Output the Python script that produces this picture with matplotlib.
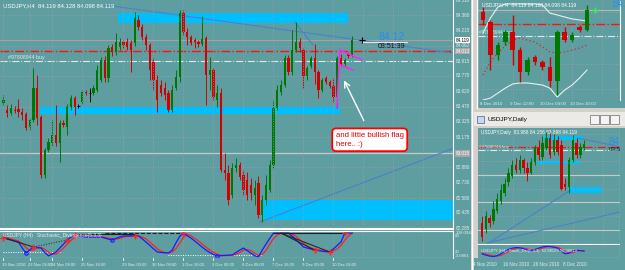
import matplotlib.pyplot as plt
import numpy as np

# ---- USDJPY H4 candles, 19 Nov - 10 Dec 2010
h4_open = [83.507, 83.439, 83.409, 83.439, 83.448, 83.419, 83.400, 83.273, 83.341, 83.653,
           83.370, 82.806, 83.049, 83.117, 83.195, 83.117, 83.312, 83.273, 83.468, 83.555,
           83.478, 83.517, 83.614, 83.604, 83.604, 83.633, 83.731, 83.926, 83.750, 84.052,
           84.004, 84.052, 84.101, 84.101, 84.091, 84.091, 84.315, 84.247, 84.150, 84.072,
           83.906, 83.731, 83.682, 83.653, 83.604, 83.439, 83.653, 83.760, 84.383, 84.198,
           84.150, 84.120, 84.101, 84.081, 84.140, 83.780, 83.828, 83.536, 83.604, 82.854,
           82.825, 82.611, 82.874, 82.903, 82.806, 82.757, 82.708, 82.611, 82.728, 82.416,
           82.562, 82.659, 82.903, 83.458, 83.614, 83.682, 83.945, 83.809, 84.023, 84.101,
           84.023, 83.770, 83.867, 83.945, 83.809, 83.633, 83.750, 83.711, 83.672, 83.565,
           83.945, 83.887, 83.984, 83.965]
h4_high = [83.585, 83.487, 83.497, 83.478, 83.546, 83.458, 83.419, 83.361, 83.848, 83.780,
           83.390, 83.069, 83.166, 83.341, 83.487, 83.341, 83.341, 83.497, 83.585, 83.575,
           83.497, 83.633, 83.633, 83.653, 83.682, 83.877, 83.955, 83.965, 84.072, 84.081,
           84.189, 84.140, 84.120, 84.140, 84.120, 84.393, 84.364, 84.276, 84.179, 84.091,
           83.945, 83.780, 83.731, 83.711, 83.633, 83.682, 83.828, 84.413, 84.413, 84.237,
           84.169, 84.140, 84.120, 84.354, 84.159, 83.955, 83.848, 83.682, 83.653, 83.020,
           82.903, 82.922, 82.971, 82.932, 82.854, 82.835, 82.776, 82.757, 82.796, 82.611,
           82.806, 82.952, 83.536, 83.682, 83.731, 83.974, 83.974, 84.218, 84.296, 84.140,
           84.042, 83.867, 83.965, 84.081, 83.828, 83.750, 83.770, 83.731, 83.750, 83.965,
           83.984, 83.945, 84.004, 84.159]
h4_low = [83.487, 83.370, 83.390, 83.409, 83.370, 83.341, 83.244, 83.244, 83.322, 83.293,
          82.776, 82.776, 83.030, 83.088, 83.088, 82.932, 83.273, 83.195, 83.439, 83.390,
          83.458, 83.497, 83.585, 83.517, 83.585, 83.614, 83.711, 83.711, 83.711, 83.965,
          83.974, 84.023, 84.042, 84.023, 83.809, 84.062, 84.218, 84.120, 84.023, 83.731,
          83.633, 83.419, 83.575, 83.536, 83.419, 83.419, 83.633, 83.711, 84.169, 84.072,
          84.072, 84.042, 84.052, 84.062, 83.487, 83.633, 83.536, 83.468, 82.835, 82.757,
          82.513, 82.581, 82.835, 82.757, 82.611, 82.562, 82.562, 82.513, 82.387, 82.348,
          82.513, 82.640, 82.874, 83.439, 83.585, 83.663, 83.780, 83.780, 84.004, 84.004,
          83.653, 83.731, 83.848, 83.692, 83.555, 83.614, 83.692, 83.653, 83.517, 83.458,
          83.867, 83.867, 83.945, 83.955]
h4_close = [83.536, 83.409, 83.458, 83.429, 83.419, 83.390, 83.263, 83.341, 83.653, 83.361,
            82.806, 83.049, 83.127, 83.195, 83.117, 83.312, 83.293, 83.468, 83.555, 83.468,
            83.475, 83.614, 83.604, 83.602, 83.653, 83.828, 83.926, 83.750, 84.042, 84.004,
            84.101, 84.101, 84.072, 84.052, 84.023, 84.335, 84.247, 84.150, 84.072, 83.828,
            83.731, 83.536, 83.604, 83.585, 83.439, 83.633, 83.760, 84.383, 84.198, 84.150,
            84.091, 84.101, 84.081, 84.130, 83.780, 83.828, 83.565, 83.604, 82.854, 82.825,
            82.562, 82.874, 82.903, 82.786, 82.659, 82.611, 82.630, 82.679, 82.416, 82.562,
            82.708, 82.903, 83.458, 83.633, 83.682, 83.945, 83.809, 84.023, 84.101, 84.042,
            83.770, 83.848, 83.945, 83.809, 83.633, 83.731, 83.711, 83.672, 83.565, 83.945,
            83.887, 83.926, 83.965, 84.119]

# stochastic (main / signal) under the H4 chart
stoch_k = [74, 70, 66, 62, 58, 35, 16, 28, 39, 37,
           35, 18, 5, 12, 20, 35, 50, 66, 76, 85,
           82, 79, 77, 77, 77, 77, 77, 73, 69, 66,
           72, 77, 81, 81, 81, 81, 81, 70, 58, 45,
           32, 20, 18, 17, 16, 27, 55, 80, 92, 82,
           73, 62, 50, 38, 27, 18, 10, 5, 6, 7,
           8, 8, 18, 27, 35, 25, 15, 5, 2, 27,
           50, 72, 92, 92, 92, 92, 92, 80, 67, 53,
           39, 35, 31, 27, 25, 23, 21, 20, 32, 45,
           58, 92, 92, 92]
stoch_d = [78, 75, 70, 66, 62, 52, 36, 26, 28, 35,
           37, 30, 19, 12, 12, 22, 35, 50, 64, 76,
           81, 82, 79, 78, 77, 77, 77, 76, 73, 69,
           69, 72, 77, 80, 81, 81, 81, 77, 70, 58,
           45, 32, 23, 18, 17, 20, 33, 54, 76, 88,
           82, 72, 62, 50, 38, 28, 18, 11, 7, 6,
           7, 8, 11, 18, 27, 29, 25, 15, 7, 11,
           26, 50, 71, 85, 92, 92, 92, 88, 80, 67,
           53, 43, 35, 31, 28, 25, 23, 21, 25, 32,
           45, 65, 81, 92]
red_marks = [0, 8, 17, 19, 35, 48, 83, 87, 91]
blue_marks = [6, 29, 57]

h4_date_pos = [0, 7, 13, 21, 32, 40, 48, 56, 64, 72, 80, 88]
h4_date_lbl = ['19 Nov 2010', '23 Nov 08:00', '24 Nov 08:00', '25 Nov 16:00', '29 Nov 00:00',
               '30 Nov 08:00', '1 Dec 16:00', '3 Dec 00:00', '6 Dec 08:00', '7 Dec 16:00',
               '9 Dec 00:00', '10 Dec 08:00']
h4_price_lbl = [84.510, 84.360, 84.215, 84.062, 83.915, 83.770, 83.620, 83.470, 83.325,
                83.175, 82.880, 82.730, 82.580, 82.435, 82.285]
h4_grid_prices = [84.360, 84.062, 83.770, 83.470, 83.175, 82.880, 82.580, 82.285]

# objects on the H4 chart: (bar from, bar to, price low, price high)
zones = [(30.5, 91.9, 84.286, 84.383), (9.7, 89.7, 83.400, 83.468), (69.2, 121.0, 82.367, 82.562)]
trend_down = ([27.1, 119.9], [84.461, 83.994])
trend_down2 = ([77.7, 82.5], [84.296, 84.072])
trend_up = ([68.4, 119.9], [82.348, 83.064])
flag_pole = ([89.7, 88.9], [84.023, 83.458])
flag_top = ([89.7, 95.6], [84.023, 83.926])
flag_bot = ([89.7, 93.2], [83.877, 83.828])
bid, stop_line, order_line, round_line = 84.119, 84.013, 83.915, 83.015

# zoomed H4 window (bars 79..93) envelope lines
band_up = [83.939, 84.056, 84.142, 84.166, 84.166, 84.166, 84.166, 84.166, 84.158, 84.095,
           84.080, 84.064, 84.049, 84.041, 84.033]
band_mid = [83.611, 83.713, 83.783, 83.838, 83.884, 83.900, 83.884, 83.869, 83.830, 83.791,
            83.783, 83.791, 83.806, 83.822, 83.845]
band_dn = [83.416, 83.431, 83.470, 83.509, 83.541, 83.549, 83.549, 83.541, 83.533, 83.509,
           83.439, 83.494, 83.533, 83.588, 83.650]
zoom_date_pos = [79, 83, 87, 91]
zoom_date_lbl = ['8 Dec 2010', '9 Dec 12:00', '10 Dec 04:00', '10 Dec 20:00']

# USDJPY daily candles (early Nov - 10 Dec 2010)
d_open = [81.25, 81.03, 81.44, 81.33, 81.69, 82.06, 82.35, 82.72, 82.97, 83.34, 83.16, 83.52, 83.23, 83.08,
          83.45, 83.96, 83.63, 83.96, 84.33, 83.82, 84.26, 84.07, 82.68, 82.54, 83.52, 84.15, 83.71, 83.96]
d_high = [81.51, 81.69, 81.55, 82.06, 82.35, 82.68, 82.87, 83.23, 83.52, 83.60, 83.71, 83.60, 83.45, 83.60,
          84.07, 84.26, 84.40, 84.55, 84.51, 84.48, 84.40, 84.26, 82.87, 83.63, 84.44, 84.33, 84.15, 84.26]
d_low = [80.59, 80.89, 81.11, 81.22, 81.62, 81.95, 82.24, 82.61, 82.87, 83.05, 83.05, 83.08, 82.79, 83.01,
         83.34, 83.52, 83.52, 83.89, 83.60, 83.71, 83.71, 82.43, 82.43, 82.35, 83.45, 83.60, 83.60, 83.89]
d_close = [80.74, 81.51, 81.25, 81.77, 82.13, 82.43, 82.68, 83.08, 83.34, 83.16, 83.52, 83.23, 83.08, 83.45,
           83.96, 83.71, 84.15, 84.33, 83.71, 84.26, 83.82, 82.50, 82.57, 83.52, 84.26, 83.71, 84.00, 84.119]
d_stoch_k = [30, 20, 12, 8, 15, 30, 50, 65, 75, 80, 78, 70, 60, 55, 65, 75, 85, 90, 88, 82, 75, 50, 30,
             35, 55, 60, 55, 52.9]
d_stoch_d = [35, 28, 20, 13, 12, 18, 32, 48, 63, 73, 78, 76, 69, 62, 60, 65, 75, 83, 88, 87, 82, 69, 52,
             38, 40, 50, 57, 50.4]
d_zones = [(16.1, 26.7, 84.26, 84.40), (14.5, 25.9, 83.38, 83.49), (22.8, 31.7, 82.35, 82.57)]
d_lines = [([1.3, 23.3], [80.48, 82.43]), ([1.3, 37.8], [80.52, 81.69]), ([25.5, 36.5], [84.33, 84.02])]
d_round = [83.0, 82.0, 81.0]
d_date_pos = [-2.4, 5.6, 13.5, 21.4]
d_date_lbl = ['4 Nov 2010', '16 Nov 2010', '26 Nov 2010', '8 Dec 2010']

TEAL = '#5f9ea0'
FRAME = '#d4d0c8'
UP = '#007800'
DOWN = '#d40000'
GRID = '#a49cb0'
ZONE = '#00bfff'
LBL = '#e6eeee'
SMALL = 'Liberation Sans'

fig = plt.figure(figsize=(6.25, 2.7), dpi=100)
fig.patch.set_facecolor(FRAME)


def px(x, y, w, h):
    return [x / 625, 1 - (y + h) / 270, w / 625, h / 270]


def panel(x, y, w, h, fc=TEAL):
    ax = fig.add_axes(px(x, y, w, h))
    ax.set_facecolor(fc)
    ax.set_xticks([])
    ax.set_yticks([])
    for s in ax.spines.values():
        s.set_visible(False)
    return ax


def candles(ax, xs, o, h, l, c, width, lw):
    o, h, l, c = (np.asarray(v, float) for v in (o, h, l, c))
    xs = np.asarray(xs)
    col = np.where(c >= o, UP, DOWN)
    doji = np.abs(c - o) < 0.006
    col = np.where(doji, '#101010', col)
    ax.vlines(xs, l, h, colors=col, linewidth=lw, zorder=4)
    ax.bar(xs, np.abs(c - o), width, bottom=np.minimum(o, c), color=col, linewidth=0, zorder=5)
    ax.hlines(o[doji], xs[doji] - width / 2, xs[doji] + width / 2, colors='#101010', linewidth=lw, zorder=5)


bars = np.arange(len(h4_close))

# ---------------- main H4 window ----------------
panel(0, 0, 471, 270)
fig.add_artist(plt.Line2D([472 / 625, 472 / 625], [0, 1], color='white', lw=1))

ax = panel(0, 0, 453, 229)
ax.set_xlim(-0.933, 119.87)
ax.set_ylim(82.279, 84.51)
for p in h4_grid_prices:
    ax.axhline(p, color=GRID, lw=0.6, ls=(0, (1, 2)), zorder=1)
for b in h4_date_pos + [96, 104, 112]:
    ax.axvline(b, color=GRID, lw=0.6, ls=(0, (1, 2)), zorder=6)
for x0, x1, lo, hi in zones:
    ax.fill_between([x0, x1], lo, hi, color=ZONE, lw=0, zorder=2)
ax.axhline(bid, color='#b49c9c', lw=0.8, zorder=3)
ax.axhline(stop_line, color='#ff1010', lw=1.0, ls='-.', zorder=3)
ax.axhline(order_line, color='#d8ecec', lw=0.8, ls='-.', zorder=3)
ax.axhline(round_line, color='#c8c8c8', lw=0.9, zorder=3)
for xs_, ys_ in (trend_down, trend_down2, trend_up):
    ax.plot(xs_, ys_, color='#4f7fc8', lw=0.8, zorder=3)
candles(ax, bars, h4_open, h4_high, h4_low, h4_close, 0.62, 0.7)
for xs_, ys_ in (flag_pole, flag_top, flag_bot):
    ax.plot(xs_, ys_, color='#ff22ff', lw=1.1, zorder=7)
ax.plot([95.6], [bid], marker='+', color='black', ms=4, mew=0.8, zorder=7)
ax.annotate('', xy=(90.5, 83.75), xytext=(96.4, 83.312),
            arrowprops=dict(arrowstyle='->', color='white', lw=1.0), zorder=8)
ax.text(88.6, 83.225, 'and little bullish flag\nhere.. :)', color='#e00000', fontsize=5.6,
        family=SMALL, va='top', ha='left', linespacing=1.35, zorder=9,
        bbox=dict(boxstyle='round,pad=0.45,rounding_size=0.5', fc='white', ec='#ff0000', lw=1.3))
ax.plot([95.9, 107.6], [84.098, 84.098], color='#e0e8e8', lw=0.8, zorder=7)
ax.text(99.9, 84.104, '84.12', color='#2a8cf0', fontsize=7.5, family=SMALL,
        va='bottom', ha='left', zorder=8)
ax.text(99.7, 84.094, '03:51:39', color='#101010', fontsize=5, family=SMALL,
        va='top', ha='left', zorder=8)
ax.text(0.007, 0.985, 'USDJPY,H4  84.119 84.128 84.098 84.119', transform=ax.transAxes,
        color='white', fontsize=4.2, family=SMALL, va='top', ha='left')
ax.text(1.2, order_line + 0.012, '#97808944 buy', color='#dde8e8', fontsize=3.8, family=SMALL,
        va='bottom', ha='left')
ax.spines['right'].set_visible(True)
ax.spines['right'].set_color('white')
ax.spines['bottom'].set_visible(True)
ax.spines['bottom'].set_color('white')
ax.spines['bottom'].set_linewidth(1.5)

yx = ax.get_yaxis_transform()
for p in h4_price_lbl:
    ax.text(1.007, p, f'{p:.3f}', transform=yx, color=LBL, fontsize=3.3, family=SMALL,
            va='center', ha='left', clip_on=False)
for p, fc, tc in ((bid, 'white', 'black'), (stop_line, '#a8a8a8', 'white'), (round_line, '#a8a8a8', 'white')):
    ax.text(1.005, p, f'{p:.3f}', transform=yx, color=tc, fontsize=3.3, family=SMALL, va='center',
            ha='left', clip_on=False, zorder=10, bbox=dict(boxstyle='square,pad=0.15', fc=fc, ec='none'))

# stochastic panel
st = panel(0, 231, 453, 27)
st.set_xlim(ax.get_xlim())
st.set_ylim(-3.0861, 100.0946)
for b in h4_date_pos + [96, 104, 112]:
    st.axvline(b, color=GRID, lw=0.6, ls=(0, (1, 2)))
st.plot(bars[:16], np.full(16, 20), color='white', lw=0.7, ls=(0, (1, 1.5)))
st.plot(bars[44:70], np.full(26, 8), color='white', lw=0.7, ls=(0, (1, 1.5)))
st.plot(bars, stoch_d, color='#ff2020', lw=0.9)
st.plot(bars, stoch_k, color='#1a1aff', lw=0.9)
st.plot([0, 8], [stoch_k[0], stoch_k[8]], color='#202020', lw=0.7)
st.plot([8, 17], [stoch_k[8], stoch_k[17]], color='#202020', lw=0.7, ls=':')
st.plot([19, 35], [88, 88], color='#202020', lw=0.8)
st.plot([27, 48], [93, 93], color='#202020', lw=0.8, ls='--')
st.plot([72, 91], [92, 92], color='#202020', lw=0.8)
st.plot([74, 83], [92, stoch_k[83]], color='#202020', lw=0.7)
st.plot([74, 87], [92, stoch_k[87]], color='#202020', lw=0.7)
st.plot(red_marks, [stoch_k[i] for i in red_marks], ls='none', marker='+', color='#ff2020', ms=4, mew=1)
st.plot(blue_marks, [stoch_k[i] for i in blue_marks], ls='none', marker='o', mfc='none',
        mec='#1a1aff', ms=2.5, mew=0.8)
st.text(0.007, 0.93, 'USDJPY (H4)   Stochastic_Divergence(5,3,3)', transform=st.transAxes,
        color='#e8f0f0', fontsize=3.5, family=SMALL, va='top', ha='left')
sx = st.get_yaxis_transform()
for v, t, va in ((100.0946, '100.0946', 'top'), (80, '80', 'center'), (20, '20', 'center'),
                 (-3.0861, '-3.0861', 'bottom')):
    st.text(1.005, v, t, transform=sx, color=LBL, fontsize=3.2, family=SMALL, va=va, ha='left',
            clip_on=False)
for k in ('top', 'bottom', 'right'):
    st.spines[k].set_visible(True)
    st.spines[k].set_color('white')

dt = panel(0, 258, 453, 12)
dt.set_xlim(ax.get_xlim())
dt.set_ylim(0, 1)
for b, t in zip(h4_date_pos, h4_date_lbl):
    dt.text(b - 0.4, 0.42, t, color=LBL, fontsize=3.0, family=SMALL, va='center', ha='left')
    dt.plot([b, b], [0.85, 1], color='white', lw=0.6)

# ---------------- zoomed H4 window (top right) ----------------
panel(477, 0, 148, 108)
fig.add_artist(plt.Line2D([476.5 / 625, 476.5 / 625], [1 - 108 / 270, 1], color='white', lw=1))
zw = panel(478, 0, 142, 100)
zw.set_xlim(78.33, 97.44)
zw.set_ylim(83.416, 84.197)
for b in zoom_date_pos + [95]:
    zw.axvline(b, color=GRID, lw=0.6, ls=(0, (1, 2)))
for p in (84.1, 83.9, 83.7, 83.5):
    zw.axhline(p, color=GRID, lw=0.6, ls=(0, (1, 2)))
zx = bars[79:]
zw.axhline(bid, color='#b8b8b8', lw=0.8)
zw.axhline(stop_line, color='#ff1010', lw=1.0, ls='-.')
zw.axhline(order_line, color='#d8ecec', lw=0.8, ls='-.')
zw.plot(zx, band_up, color='#e8f0f0', lw=0.8)
zw.plot(zx, band_dn, color='#e8f0f0', lw=0.8)
zw.plot(zx, band_mid, color='#e02020', lw=0.9, ls=(0, (1, 2)))
candles(zw, zx, h4_open[79:], h4_high[79:], h4_low[79:], h4_close[79:], 0.62, 1.0)
zw.plot([94.1], [bid], marker='+', color='#30ff30', ms=4, mew=0.9)
zw.text(96.5, 84.125, '84.12', color='#2a8cf0', fontsize=7, family=SMALL, va='bottom')
zw.text(0.03, 0.98, 'USDJPY,H4  84.119 84.128 84.098 84.119', transform=zw.transAxes,
        color='white', fontsize=3.6, family=SMALL, va='top', ha='left')
zw.text(78.5, order_line + 0.01, '#97808944 buy', color='#dde8e8', fontsize=3.4, family=SMALL,
        va='bottom')
zw.spines['right'].set_visible(True)
zw.spines['right'].set_color('white')
zd = panel(478, 100, 142, 8)
zd.set_xlim(zw.get_xlim())
zd.set_ylim(0, 1)
for b, t in zip(zoom_date_pos, zoom_date_lbl):
    zd.text(b - 0.35, 0.5, t, color=LBL, fontsize=3.2, family=SMALL, va='center', ha='left')

# ---------------- daily window (bottom right) ----------------
tb = panel(474, 112, 151, 14, fc='#eceae6')
tb.set_xlim(0, 151)
tb.set_ylim(0, 14)
tb.add_patch(plt.Rectangle((3, 3.5), 7, 7, fc='#c8d8f0', ec='#5878a8', lw=0.6))
tb.text(13, 7, 'USDJPY,Daily', color='black', fontsize=4.6, family=SMALL, va='center', ha='left')
for bx in (116, 126, 136):
    tb.add_patch(plt.Rectangle((bx, 2.5), 9, 9, fc='#f4f4f4', ec='#808080', lw=0.6))
dw = panel(478, 128, 142, 116)
dw.set_xlim(-1.06, 36.5)
dw.set_ylim(80.484, 84.70)
dxs = np.arange(len(d_close))
for b in d_date_pos + [29.4]:
    dw.axvline(b + 2.6, color=GRID, lw=0.6, ls=(0, (1, 2)))
for p in (84.5, 83.5, 82.5, 81.5):
    dw.axhline(p, color=GRID, lw=0.6, ls=(0, (1, 2)))
for p in d_round:
    dw.axhline(p, color='#c8c8c8', lw=0.8)
for x0, x1, lo, hi in d_zones:
    dw.fill_between([x0, x1], lo, hi, color=ZONE, lw=0)
for xs_, ys_ in d_lines:
    dw.plot(xs_, ys_, color='#4f7fc8', lw=0.8)
dw.axhline(stop_line, color='#ff1010', lw=0.9, ls='-.')
dw.axhline(order_line, color='#d8ecec', lw=0.8, ls='-.')
candles(dw, dxs, d_open, d_high, d_low, d_close, 0.65, 0.7)
dw.text(33.5, 84.02, '84', color='#2a8cf0', fontsize=7, family=SMALL, va='bottom')
dw.text(33.5, 84.0, '03:5', color='#101010', fontsize=4.5, family=SMALL, va='top')
dw.text(0.02, 0.985, 'USDJPY,Daily  83.988 84.156 83.898 84.119', transform=dw.transAxes,
        color='white', fontsize=3.4, family=SMALL, va='top', ha='left')
dw.text(-0.8, order_line + 0.03, '#97808944 buy', color='#dde8e8', fontsize=3.2, family=SMALL,
        va='bottom')
dw.spines['right'].set_visible(True)
dw.spines['right'].set_color('white')
dw.spines['bottom'].set_visible(True)
dw.spines['bottom'].set_color('white')
ds = panel(478, 245, 142, 13)
ds.set_xlim(dw.get_xlim())
ds.set_ylim(-3, 100)
ds.plot(dxs, d_stoch_d, color='#ff2020', lw=0.8)
ds.plot(dxs, d_stoch_k, color='#1a1aff', lw=0.8)
ds.text(0.02, 0.55, 'USDJPY (H4)  Stoch_Div(5,3,3)  52.88129 50.36819',
        transform=ds.transAxes, color='#e8f0f0', fontsize=3.0, family=SMALL, va='center', ha='left')
ds.spines['right'].set_visible(True)
ds.spines['right'].set_color('white')
ds.spines['bottom'].set_visible(True)
ds.spines['bottom'].set_color('white')
dd = panel(474, 258, 151, 12)
dd.set_xlim(-2.1, 37.85)
dd.set_ylim(0, 1)
for b, t in zip(d_date_pos, d_date_lbl):
    dd.text(b, 0.5, t, color=LBL, fontsize=3.3, family=SMALL, va='center', ha='left')
pr = panel(620, 128, 5, 130)

fig.savefig('out.png', dpi=100, facecolor=fig.get_facecolor())
